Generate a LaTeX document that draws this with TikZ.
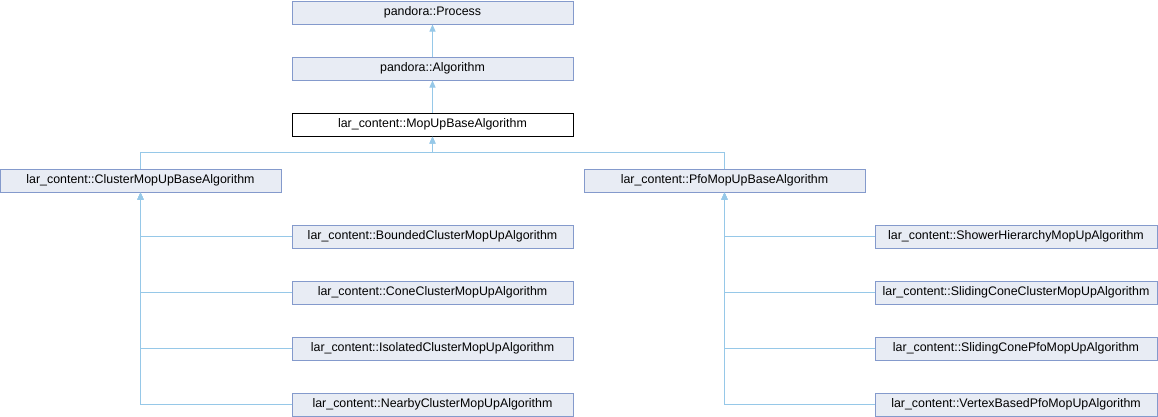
\documentclass[tikz,border=0pt]{standalone}
\usepackage{fontspec}
\setmainfont{Liberation Sans}
\usetikzlibrary{positioning,arrows.meta}
\definecolor{boxfill}{RGB}{232,236,244}
\definecolor{boxline}{RGB}{132,154,204}
\definecolor{edgecol}{RGB}{150,200,232}
\tikzset{
  cls/.style={rectangle, draw=boxline, fill=boxfill, line width=1pt,
    minimum width=281pt, minimum height=23pt, inner sep=0pt,
    font=\fontsize{12.4}{14}\selectfont},
  current/.style={draw=black, fill=white},
  inh/.style={draw=edgecol, line width=1pt,
    -{Triangle[length=7pt,width=6pt,fill=edgecol]}},
}
\begin{document}
\begin{tikzpicture}[x=1pt, y=1pt, node distance=32pt]
  \useasboundingbox (0,0) rectangle (1158,-416);
  % basisklassen
  \node[cls] (process) at (432.5,-12.5) {pandora::Process};
  \node[cls, below=of process] (algo) {pandora::Algorithm};
  \node[cls, current, below=of algo] (mopup) {lar\_content::MopUpBaseAlgorithm};

  % zwei zweige
  \node[cls] (cluster) at (140.5,-180.5) {lar\_content::ClusterMopUpBaseAlgorithm};
  \node[cls] (pfo) at (724.5,-180.5) {lar\_content::PfoMopUpBaseAlgorithm};

  % cluster-algorithmen
  \node[cls] (bounded) at (432.5,-236.5) {lar\_content::BoundedClusterMopUpAlgorithm};
  \node[cls, below=of bounded] (cone) {lar\_content::ConeClusterMopUpAlgorithm};
  \node[cls, below=of cone] (isolated) {lar\_content::IsolatedClusterMopUpAlgorithm};
  \node[cls, below=of isolated] (nearby) {lar\_content::NearbyClusterMopUpAlgorithm};

  % pfo-algorithmen
  \node[cls, minimum width=282pt] (shower) at (1016,-236.5) {lar\_content::ShowerHierarchyMopUpAlgorithm};
  \node[cls, minimum width=282pt, below=of shower] (slcluster) {lar\_content::SlidingConeClusterMopUpAlgorithm};
  \node[cls, minimum width=282pt, below=of slcluster] (slpfo) {lar\_content::SlidingConePfoMopUpAlgorithm};
  \node[cls, minimum width=282pt, below=of slpfo] (vertex) {lar\_content::VertexBasedPfoMopUpAlgorithm};

  \draw[inh] (algo) -- (process);
  \draw[inh] (mopup) -- (algo);
  \draw[inh] (cluster.north) -- ++(0,16) -| (mopup.south);
  \draw[inh] (pfo.north) -- ++(0,16) -| (mopup.south);
  \foreach \c in {bounded,cone,isolated,nearby}
    \draw[inh] (\c.west) -| (cluster.south);
  \foreach \c in {shower,slcluster,slpfo,vertex}
    \draw[inh] (\c.west) -| (pfo.south);
\end{tikzpicture}
\end{document}
